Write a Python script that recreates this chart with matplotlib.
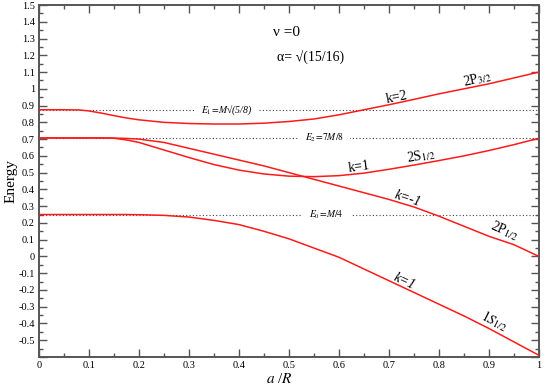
import matplotlib
matplotlib.use("Agg")
import matplotlib.pyplot as plt
from matplotlib.ticker import MultipleLocator, FuncFormatter

plt.rcParams['font.family'] = ['Liberation Serif', 'DejaVu Serif']
plt.rcParams['mathtext.fontset'] = 'stix'

# a/R grid and the four energy levels
a_R = [0.0, 0.05, 0.08, 0.1, 0.125, 0.15, 0.175, 0.2, 0.25, 0.3, 0.35, 0.4, 0.45,
       0.5, 0.55, 0.6, 0.65, 0.7, 0.75, 0.8, 0.85, 0.9, 0.95, 1.0]
E_2P32 = [0.875, 0.875, 0.874, 0.868, 0.855, 0.84, 0.826, 0.815, 0.80, 0.793, 0.79, 0.79, 0.795,
          0.805, 0.82, 0.845, 0.875, 0.905, 0.937, 0.97, 1.0, 1.03, 1.065, 1.10]
E_2S12 = [0.707, 0.707, 0.707, 0.707, 0.707, 0.705, 0.695, 0.68, 0.635, 0.59, 0.548, 0.515, 0.492,
          0.479, 0.476, 0.482, 0.497, 0.52, 0.545, 0.572, 0.60, 0.632, 0.667, 0.705]
E_2P12 = [0.707, 0.707, 0.707, 0.707, 0.707, 0.706, 0.704, 0.70, 0.68, 0.645, 0.61, 0.575, 0.54,
          0.50, 0.46, 0.42, 0.38, 0.34, 0.295, 0.24, 0.18, 0.12, 0.07, 0.0]
E_1S12 = [0.25, 0.25, 0.25, 0.25, 0.25, 0.25, 0.25, 0.249, 0.245, 0.235, 0.215, 0.19, 0.15,
          0.105, 0.05, -0.005, -0.075, -0.145, -0.215, -0.285, -0.355, -0.43, -0.51, -0.59]

# reference levels
levels = [0.875, 0.707, 0.25]
level_labels = [r'$E_1\!=\!M$√(5/8)', r'$E_2\!=\!7M/8$', r'$E_0\!=\!M/4$']
level_label_x = [0.375, 0.57, 0.575]

fig = plt.figure(figsize=(5.45, 3.85), dpi=100)
ax = fig.add_axes([0.0716, 0.0727, 0.9174, 0.9143])

red = '#ff1a1a'
for E in [E_2P32, E_2S12, E_2P12, E_1S12]:
    ax.plot(a_R, E, color=red, lw=1.1, zorder=4)

for lev, lab, lx in zip(levels, level_labels, level_label_x):
    ax.axhline(lev, color='#444444', lw=0.8, ls=(0, (1, 2)), zorder=1)
    ax.text(lx, lev, lab, fontsize=7, style='italic', ha='center', va='center', zorder=3,
            bbox=dict(facecolor='white', edgecolor='none', pad=5))

ax.text(0.468, 1.333, 'ν =0', fontsize=11, ha='left', va='center')
ax.text(0.476, 1.184, 'α= √(15/16)', fontsize=10, ha='left', va='center')

ax.text(0.715, 0.95, 'k=2', fontsize=10, rotation=11, ha='center', va='center')
ax.text(0.876, 1.06, r'2P$_{3/2}$', fontsize=10, rotation=13, ha='center', va='center')
ax.text(0.64, 0.535, 'k=1', fontsize=10, rotation=8, ha='center', va='center')
ax.text(0.765, 0.60, r'2S$_{1/2}$', fontsize=10, rotation=9, ha='center', va='center')
ax.text(0.738, 0.344, 'k=-1', fontsize=10, style='italic', rotation=-18, ha='center', va='center')
ax.text(0.93, 0.156, r'2P$_{1/2}$', fontsize=10, rotation=-24, ha='center', va='center')
ax.text(0.73, -0.15, 'k=1', fontsize=10, style='italic', rotation=-25, ha='center', va='center')
ax.text(0.91, -0.385, r'$1S_{1/2}$', fontsize=10, rotation=-27, ha='center', va='center')

ax.set_xlim(0, 1)
ax.set_ylim(-0.6, 1.5)
ax.xaxis.set_major_locator(MultipleLocator(0.1))
ax.xaxis.set_minor_locator(MultipleLocator(0.05))
ax.yaxis.set_major_locator(MultipleLocator(0.1))
ax.yaxis.set_minor_locator(MultipleLocator(0.05))


def fmt(v, pos):
    if v < -0.55:
        return ''
    s = '%.1f' % v
    if s.endswith('.0'):
        s = s[:-2]
    if s == '-0':
        s = '0'
    return s


ax.xaxis.set_major_formatter(FuncFormatter(fmt))
ax.yaxis.set_major_formatter(FuncFormatter(fmt))
ax.tick_params(which='both', direction='in', top=True, right=True, labelsize=7.5,
               color='#555555', pad=3)
ax.tick_params(which='major', length=6, width=1)
ax.tick_params(which='minor', length=3, width=1)
for sp in ax.spines.values():
    sp.set_color('#555555')
    sp.set_linewidth(1.4)

ax.set_xlabel(r'$a$ /$R$', fontsize=11)
ax.xaxis.set_label_coords(0.48, -0.042)
ax.set_ylabel('Energy', fontsize=11)
ax.yaxis.set_label_coords(-0.043, 0.5)

fig.savefig('out.png', dpi=100)
